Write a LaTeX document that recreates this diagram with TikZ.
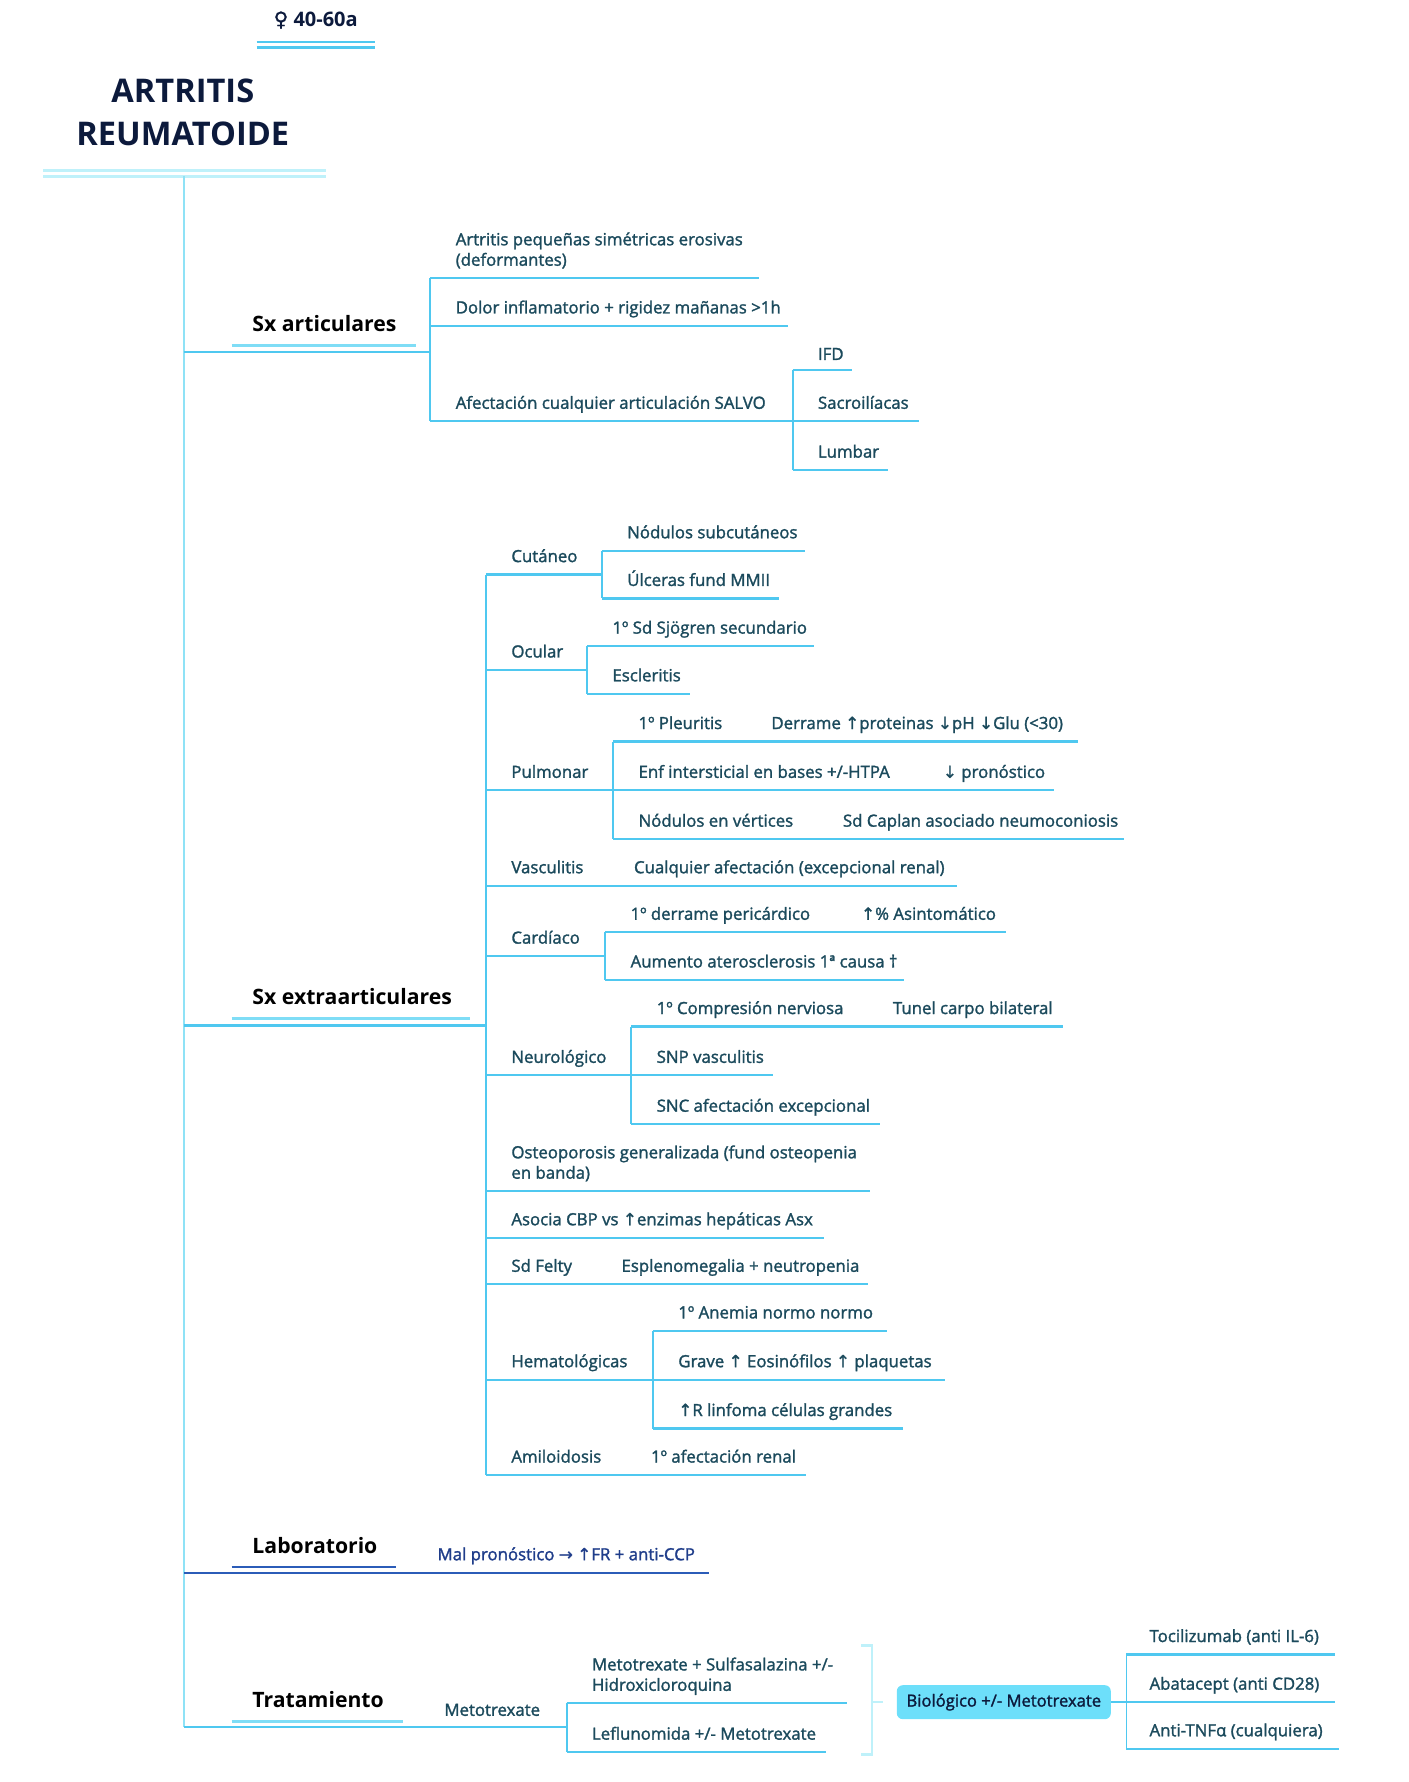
\documentclass[tikz,border=0pt]{standalone}
\usepackage{fontspec}
\setmainfont{Open Sans}
\newfontfamily\leaffont[FakeBold=1.6]{Open Sans}
\newfontfamily\symfont[FakeBold=1.2]{DejaVu Sans}
\newcommand{\upar}{{\symfont\char"2191}}
\newcommand{\dnar}{{\symfont\char"2193}}
\newcommand{\rtar}{{\symfont\char"2192}}
\newcommand{\femsym}{{\symfont\char"2640}}
\definecolor{leafc}{HTML}{1B4A5C}
\definecolor{titlec}{HTML}{0C1A3C}
\definecolor{lnc}{HTML}{4FC8F0}
\definecolor{lnlight}{HTML}{7FDDF6}
\definecolor{trunkc}{HTML}{8FE2F6}
\definecolor{paleln}{HTML}{BFF1FA}
\definecolor{labc}{HTML}{2B5CB8}
\definecolor{labtxt}{HTML}{1F3D8A}
\definecolor{bioc}{HTML}{6DDFFA}
\tikzset{
  leaf/.style={font=\leaffont\fontsize{8.4}{10.2}\selectfont, text=leafc, inner sep=0pt, anchor=base west, align=left},
  head/.style={font=\bfseries\fontsize{10.6}{12}\selectfont, text=black, inner sep=0pt, anchor=base west},
  ln/.style={draw=lnc, line width=1.1pt},
  vln/.style={draw=lnc, line width=0.9pt},
  hul/.style={draw=lnlight, line width=1.5pt},
}
\begin{document}
\begin{tikzpicture}[x=0.5678pt, y=-0.5678pt]
\useasboundingbox (0,0) rectangle (1240,1569.3);
% top
\node[font=\bfseries\fontsize{10}{12}\selectfont, text=titlec, inner sep=0pt, anchor=base] (age) at (278,23) {\femsym\ 40-60a};
\draw[draw=lnc, line width=1pt] (226,37) -- (330,37);
\draw[draw=lnc, line width=1.4pt] (226,41.5) -- (330,41.5);
\node[font=\bfseries\fontsize{16.3}{21.6}\selectfont, text=titlec, inner sep=0pt, align=center] (title) at (161,99) {ARTRITIS\\REUMATOIDE};
\draw[draw=paleln, line width=1.5pt] (38,150) -- (287,150);
\draw[draw=paleln, line width=1.5pt] (38,155) -- (287,155);
\coordinate (t0) at (162,155);
\coordinate (t1) at (162,1521);
\draw[draw=trunkc, line width=0.9pt] (t0) -- (t1);

% Sx articulares
\node[head] (sxa) at (222,292) {Sx articulares};
\draw[hul] (204,304) -- (366,304);
\draw[ln] (162,310) -- (379,310);
\draw[vln] (379,245) -- (379,371);
\node[leaf] (a1) at (401,234) {Artritis pequeñas simétricas erosivas\\(deformantes)};
\draw[ln] (379,245) -- (668,245);
\node[leaf] (a2) at (401,276) {Dolor inflamatorio + rigidez mañanas >1h};
\draw[ln] (379,287) -- (694,287);
\node[leaf] (a3) at (401,360) {Afectación cualquier articulación SALVO};
\draw[ln] (379,371) -- (698,371);
\draw[vln] (698,326) -- (698,414);
\node[leaf] (ifd) at (720,317) {IFD};
\draw[ln] (698,326) -- (750,326);
\node[leaf] (sacro) at (720,360) {Sacroilíacas};
\draw[ln] (698,371) -- (809,371);
\node[leaf] (lumb) at (720,403) {Lumbar};
\draw[ln] (698,414) -- (782,414);

% Sx extraarticulares
\node[head] (sxe) at (222,885) {Sx extraarticulares};
\draw[hul] (204,897) -- (414,897);
\draw[ln] (162,903) -- (428,903);
\draw[vln] (428,506) -- (428,1299);

% Cutaneo
\node[leaf] (cut) at (450,495) {Cutáneo};
\draw[ln] (428,506) -- (530,506);
\draw[vln] (530,485) -- (530,527);
\node[leaf] (c1) at (552,474) {Nódulos subcutáneos};
\draw[ln] (530,485) -- (709,485);
\node[leaf] (c2) at (552,516) {Úlceras fund MMII};
\draw[ln] (530,527) -- (686,527);

% Ocular
\node[leaf] (ocu) at (450,579) {Ocular};
\draw[ln] (428,590) -- (517,590);
\draw[vln] (517,569) -- (517,611);
\node[leaf] (o1) at (539,558) {1º Sd Sjögren secundario};
\draw[ln] (517,569) -- (717,569);
\node[leaf] (o2) at (539,600) {Escleritis};
\draw[ln] (517,611) -- (608,611);

% Pulmonar
\node[leaf] (pul) at (450,685) {Pulmonar};
\draw[ln] (428,696) -- (540,696);
\draw[vln] (540,653) -- (540,739);
\node[leaf] (p1) at (562,642) {1º Pleuritis};
\node[leaf] (p1b) at (679,642) {Derrame \upar proteinas \dnar pH \dnar Glu (<30)};
\draw[ln] (540,653) -- (949,653);
\node[leaf] (p2) at (562,685) {Enf intersticial en bases +/-HTPA};
\node[leaf] (p2b) at (830,685) {\dnar\ pronóstico};
\draw[ln] (540,696) -- (928,696);
\node[leaf] (p3) at (562,728) {Nódulos en vértices};
\node[leaf] (p3b) at (742,728) {Sd Caplan asociado neumoconiosis};
\draw[ln] (540,739) -- (990,739);

% Vasculitis
\node[leaf] (vas) at (450,769) {Vasculitis};
\node[leaf] (vasb) at (558,769) {Cualquier afectación (excepcional renal)};
\draw[ln] (428,780) -- (843,780);

% Cardiaco
\node[leaf] (car) at (450,831) {Cardíaco};
\draw[ln] (428,842) -- (533,842);
\draw[vln] (533,821) -- (533,863);
\node[leaf] (k1) at (555,810) {1º derrame pericárdico};
\node[leaf] (k1b) at (758,810) {\upar\% Asintomático};
\draw[ln] (533,821) -- (886,821);
\node[leaf] (k2) at (555,852) {Aumento aterosclerosis 1ª causa †};
\draw[ln] (533,863) -- (796,863);

% Neurologico
\node[leaf] (neu) at (450,936) {Neurológico};
\draw[ln] (428,947) -- (556,947);
\draw[vln] (556,904) -- (556,990);
\node[leaf] (n1) at (578,893) {1º Compresión nerviosa};
\node[leaf] (n1b) at (786,893) {Tunel carpo bilateral};
\draw[ln] (556,904) -- (936,904);
\node[leaf] (n2) at (578,936) {SNP vasculitis};
\draw[ln] (556,947) -- (681,947);
\node[leaf] (n3) at (578,979) {SNC afectación excepcional};
\draw[ln] (556,990) -- (775,990);

% Osteoporosis etc
\node[leaf] (ost) at (450,1038) {Osteoporosis generalizada (fund osteopenia\\en banda)};
\draw[ln] (428,1049) -- (766,1049);
\node[leaf] (cbp) at (450,1079) {Asocia CBP vs \upar enzimas hepáticas Asx};
\draw[ln] (428,1090) -- (726,1090);
\node[leaf] (fel) at (450,1120) {Sd Felty};
\node[leaf] (felb) at (547,1120) {Esplenomegalia + neutropenia};
\draw[ln] (428,1131) -- (764,1131);

% Hematologicas
\node[leaf] (hem) at (450,1204) {Hematológicas};
\draw[ln] (428,1215) -- (575,1215);
\draw[vln] (575,1172) -- (575,1258);
\node[leaf] (h1) at (597,1161) {1º Anemia normo normo};
\draw[ln] (575,1172) -- (781,1172);
\node[leaf] (h2) at (597,1204) {Grave \upar\ Eosinófilos \upar\ plaquetas};
\draw[ln] (575,1215) -- (832,1215);
\node[leaf] (h3) at (597,1247) {\upar R linfoma células grandes};
\draw[ln] (575,1258) -- (795,1258);

% Amiloidosis
\node[leaf] (ami) at (450,1288) {Amiloidosis};
\node[leaf] (amib) at (573,1288) {1º afectación renal};
\draw[ln] (428,1299) -- (710,1299);

% Laboratorio
\node[head] (lab) at (222,1368) {Laboratorio};
\draw[draw=labc, line width=1.4pt] (204,1380) -- (349,1380);
\draw[draw=labc, line width=1.2pt] (162,1385) -- (624,1385);
\node[leaf, text=labtxt] (labb) at (385,1374) {Mal pronóstico \rtar\ \upar FR + anti-CCP};

% Tratamiento
\node[head] (tra) at (222,1504) {Tratamiento};
\draw[hul] (204,1516) -- (355,1516);
\draw[ln] (162,1521) -- (499,1521);
\node[leaf] (mtx) at (391,1511) {Metotrexate};
\draw[vln] (499,1500) -- (499,1543);
\node[leaf] (m1) at (521,1489) {Metotrexate + Sulfasalazina +/-\\Hidroxicloroquina};
\draw[ln] (499,1500) -- (746,1500);
\node[leaf] (m2) at (521,1532) {Leflunomida +/- Metotrexate};
\draw[ln] (499,1543) -- (727,1543);
% bracket
\draw[draw=paleln, line width=1.1pt] (758,1449) -- (768,1449) -- (768,1545) -- (758,1545);
\draw[draw=paleln, line width=1.1pt] (768,1499) -- (778,1499);
\node[fill=bioc, rounded corners=3pt, minimum width=107pt, minimum height=17pt, inner sep=0pt,
  font=\leaffont\fontsize{8.3}{10}\selectfont, text=titlec] (bio) at (884,1499) {Biológico +/- Metotrexate};
\coordinate (bv) at (992,1499);
\draw[ln] (bio.east) -- (bv);
\draw[vln] (992,1457) -- (992,1540);
\node[leaf] (b1) at (1012,1446) {Tocilizumab (anti IL-6)};
\draw[ln] (992,1457) -- (1176,1457);
\node[leaf] (b2) at (1012,1488) {Abatacept (anti CD28)};
\draw[ln] (992,1499) -- (1176,1499);
\node[leaf] (b3) at (1012,1529) {Anti-TNFα (cualquiera)};
\draw[ln] (992,1540) -- (1179,1540);
\end{tikzpicture}
\end{document}
